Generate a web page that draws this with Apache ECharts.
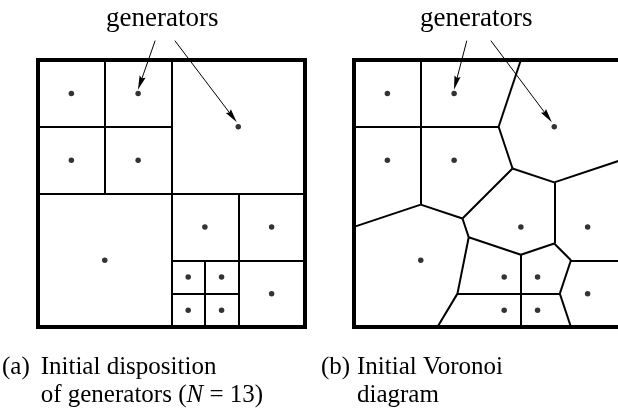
<!DOCTYPE html>
<html>
<head>
<meta charset="utf-8">
<script src="https://cdn.jsdelivr.net/npm/echarts@6/dist/echarts.min.js"></script>
<style>html,body{margin:0;padding:0;background:#fff}#c{width:618px;height:411px}</style>
</head>
<body>
<div id="c"></div>
<script>
// Generator positions (same in both panels), unit square scaled 0..8, y downward
const generators = [[1,1],[3,1],[1,3],[3,3],[6,2],[2,6],[5,5],[7,5],[7,7],[4.5,6.5],[5.5,6.5],[4.5,7.5],[5.5,7.5]];
// (a) initial quad-tree disposition: cell boundary segments
const gridEdges = [
  [[2,0],[2,4]], [[0,2],[4,2]], [[4,0],[4,8]], [[0,4],[8,4]],
  [[6,4],[6,8]], [[4,6],[8,6]], [[5,6],[5,8]], [[4,7],[6,7]]
];
// (b) Voronoi diagram edges
const voronoiEdges = [
  [[2,0],[2,4.3333]], [[0,2],[4.3333,2]], [[5,0],[4.3333,2]], [[4.3333,2],[4.75,3.25]],
  [[4.75,3.25],[6,3.6667]], [[6,3.6667],[8,3]], [[6,3.6667],[6,5.5]], [[6,5.5],[6.5,6]],
  [[6.5,6],[8,6]], [[6.5,6],[6.1667,7]], [[6.1667,7],[6.5,8]], [[3.1,7],[6.1667,7]],
  [[5,5.8333],[5,8]], [[5,5.8333],[6,5.5]], [[5,5.8333],[3.4375,5.3125]],
  [[3.4375,5.3125],[3.25,4.75]], [[3.25,4.75],[4.75,3.25]], [[3.25,4.75],[2,4.3333]],
  [[2,4.3333],[0,5]], [[3.4375,5.3125],[3.1,7]], [[3.1,7],[2.5,8]]
];
// annotation arrows from the "generators" label
const arrowsA = [[[3.51,-0.58],[3.064,0.696]], [[4.10,-0.58],[5.83,1.70]]];
const arrowsB = [[[3.38,-0.58],[3.049,0.691]], [[4.10,-0.58],[5.803,1.694]]];
const labelTop = 'generators';
const captionA = ['(a)', 'Initial disposition', 'of generators ({i|N} = 13)'];
const captionB = ['(b)', 'Initial Voronoi', 'diagram'];

const FONT = 'Liberation Serif';
const chart = echarts.init(document.getElementById('c'), null, {renderer: 'canvas'});
const axisX = i => ({type:'value', min:0, max:8, show:false, gridIndex:i});
const axisY = i => ({type:'value', min:0, max:8, inverse:true, show:false, gridIndex:i});
const segs = (edges) => edges.map(e => ({coords: e}));
const ARROW = 'path://M0,0 M20,20 M10,0 L14.5,20 L10,17.5 L5.5,20 Z';
function panelSeries(i, edges, arrows) {
  return [
    {type:'lines', coordinateSystem:'cartesian2d', xAxisIndex:i, yAxisIndex:i, silent:true,
     lineStyle:{color:'#000', width:2, opacity:1, curveness:0}, data: segs(edges), z:2},
    {type:'lines', coordinateSystem:'cartesian2d', xAxisIndex:i, yAxisIndex:i, silent:true, clip:false,
     symbol:['none', ARROW], symbolSize:14,
     lineStyle:{color:'#000', width:1, opacity:1}, data: segs(arrows), z:3},
    {type:'scatter', xAxisIndex:i, yAxisIndex:i, symbolSize:5.5, silent:true,
     itemStyle:{color:'#000'}, data: generators, z:4}
  ];
}
const txt = (x, y, text, size) => ({
  type:'text', x:x, y:y, silent:true,
  style:{text:text, fill:'#000', font: size + 'px "' + FONT + '"', verticalAlign:'middle', align:'left',
    rich:{i:{fontStyle:'italic', fontFamily:FONT, fontSize:size}}}
});

chart.setOption({
  animation:false,
  backgroundColor:'#fff',
  grid:[
    {left:38, top:60, width:267, height:267, show:true, borderColor:'#000', borderWidth:4,
     backgroundColor:'transparent', outerBoundsMode:'none', containLabel:false},
    {left:354, top:60, width:267, height:267, show:true, borderColor:'#000', borderWidth:4,
     backgroundColor:'transparent', outerBoundsMode:'none', containLabel:false}
  ],
  xAxis:[axisX(0), axisX(1)],
  yAxis:[axisY(0), axisY(1)],
  series:[].concat(panelSeries(0, gridEdges, arrowsA), panelSeries(1, voronoiEdges, arrowsB)),
  graphic:[
    txt(106, 19, labelTop, 27),
    txt(420, 19, labelTop, 27),
    txt(2, 367, captionA[0], 25),
    txt(40.7, 367, captionA[1], 25),
    txt(40.7, 395, captionA[2], 25),
    txt(321, 367, captionB[0], 25),
    txt(357, 367, captionB[1], 25),
    txt(357, 395, captionB[2], 25)
  ]
});
</script>
</body>
</html>
